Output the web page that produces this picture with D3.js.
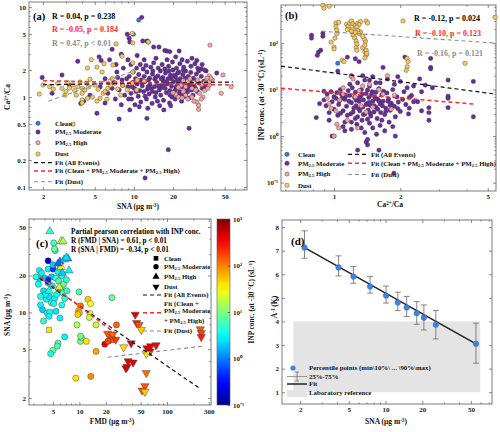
<!DOCTYPE html>
<html><head><meta charset="utf-8">
<script src="https://cdn.jsdelivr.net/npm/d3@7"></script>
<style>body{margin:0;background:#fff} text{font-family:"Liberation Serif","Times New Roman",serif;font-weight:bold}</style>
</head><body><svg id="c" width="500" height="432"></svg>
<script>
// ---------------- DATA ----------------
// Panel (a): [SNA, Ca2+/Ca]
const aClean = [[10.9,7.2],[9.9,5.0]];
const aMod = [[1.97,1.65],[2.35,1.1],[2.8,1.76],[3.7,2.5],[3.2,1.35],[3.9,0.85],[4.1,0.9],[4.6,1.05],[5.2,0.66],[5.4,2.8],[5.6,2.55],[5.5,1.3],[6.0,0.86],[6.0,1.6],[6.5,2.6],[6.3,1.1],[6.8,3.4],[7.0,1.45],[7.2,0.95],[7.4,1.9],[7.7,0.57],[7.7,1.2],[8.0,0.82],[8.1,1.55],[8.3,2.1],[8.5,1.05],[8.9,5.0],[9.2,4.5],[9.3,4.1],[9.3,0.72],[9.0,1.3],[9.2,1.7],[9.5,2.3],[9.6,0.95],[11.5,7.7],[11.7,4.2],[12.6,4.2],[12.9,4.1],[14.2,3.6],[15.6,3.6],[17.3,3.3],[17.9,3.25],[18.9,3.2],[22.3,3.25],[21,2.8],[10.6,2.9],[12.6,0.58],[26.6,0.45],[18.4,0.26],[12.2,0.126],[43.4,1.85],[36,1.95],[40,1.55],[33,2.05],
[10.2,0.82],[10.8,1.02],[11.3,0.88],[11.9,1.15],[12.5,0.95],[13.1,1.08],[13.8,0.85],[14.6,1.0],[15.2,0.9],[16.1,1.05],[16.9,0.92],[17.8,1.12],[18.8,0.86],[19.7,1.0],[20.8,0.95],[22.0,1.07],[23.3,0.9],[24.5,1.02],[10.1,1.25],[10.6,1.4],[11.1,1.18],[11.6,1.33],[12.1,1.48],[12.7,1.22],[13.3,1.38],[13.9,1.15],[14.4,1.3],[15.0,1.45],[15.7,1.2],[16.3,1.35],[16.8,1.52],[17.4,1.25],[18.1,1.4],[18.9,1.18],[19.5,1.32],[20.2,1.48],[21.0,1.22],[21.8,1.38],[22.6,1.15],[23.5,1.3],[24.4,1.45],[25.5,1.25],[26.5,1.4],[27.8,1.2],[29.0,1.35],[30.3,1.5],[10.3,1.6],[10.9,1.78],[11.4,1.55],[12.0,1.7],[12.6,1.9],[13.2,1.62],[13.9,1.8],[14.5,1.58],[15.3,1.72],[16.0,1.95],[16.7,1.65],[17.5,1.85],[18.3,1.6],[19.1,1.75],[20.0,2.0],[20.9,1.68],[21.7,1.85],[22.8,1.6],[23.8,1.78],[25.0,1.95],[26.2,1.7],[27.4,1.88],[28.7,1.62],[30.2,1.8],[31.5,1.95],[10.5,2.1],[11.2,2.3],[11.8,2.05],[12.4,2.25],[13.5,2.15],[14.2,2.4],[15.4,2.1],[16.5,2.3],[17.3,2.05],[18.5,2.2],[19.8,2.45],[21.3,2.1],[22.6,2.35],[24.2,2.15],[25.8,2.5],[27.5,2.2],[29.5,2.35],[31.0,2.1],[33.0,1.7],[34.5,1.5],[35.5,1.3],[33.5,1.25],[32.0,1.42],[30.8,1.15],[28.5,1.05],[26.8,0.98],[25.2,1.1],[9.8,1.45],[9.5,1.1],[8.8,1.6],[9.9,1.9],[8.2,1.35],[7.5,1.65],[6.8,1.25],[11.0,0.78],[12.8,0.75],[15.8,0.8],[17.0,0.72],[19.2,0.8],[13.6,1.25],[14.8,1.12],[16.4,1.28],[17.9,1.48],[19.0,1.05],[20.5,1.15],[21.5,1.55],[23.0,1.5],[24.8,1.62],[26.0,1.15],[27.2,1.55],[28.2,1.42],[29.8,1.25],[12.2,1.02],[13.0,1.55],[14.0,1.95],[15.5,1.32],[16.2,1.6],[18.6,1.95],[20.4,1.75],[22.2,1.9],[24.0,2.0],[11.5,1.45],[10.4,1.15],[12.9,1.3],[14.7,1.65],[17.1,1.38],[19.4,1.6],[21.2,1.3],[23.6,1.05],[25.6,1.45],[27.0,1.3],[9.7,1.3],[9.1,0.95],[28.0,2.7],[23.5,2.6],[18.0,2.6],[14.8,2.7],[12.0,2.6],[30.5,2.55],[33.5,2.3],[35,2.0],[38,1.65],[9.0,2.6],[8.0,3.0],[7.3,2.3]];
const aHigh = [[38.5,3.78],[38,1.72],[38.5,1.6],[36,1.52],[40,1.55],[38,1.35],[48.5,1.76],[47,1.1],[56,1.3],[31.5,0.73],[31.5,0.81],[30.5,0.88],[28,1.0],[25,1.05],[24,1.15],[22,1.0],[21,1.08],[25,1.3],[28,1.25],[30,1.2],[32,1.1],[34,1.0],[35,1.18],[33,1.38],[29,1.45],[26,1.5],[23,1.35],[27,1.6],[31,1.55],[35,1.45],[37,1.25],[33,0.95],[36,1.42],[24,1.52],[22,1.28],[20,1.12],[38,1.48],[39,1.62],[36.5,1.62],[26,0.95],[29,0.9],[23.5,0.98]];
const aDust = [[9.7,5.1],[9.8,4.0],[7.3,3.9],[12.9,4.1],[8.1,2.85],[4.7,2.6],[4.4,2.1],[5.2,2.15],[5.7,1.9],[6.9,2.27],[9.8,2.4],[10.6,1.55],[2.0,1.36],[2.25,1.3],[1.87,1.08],[2.4,1.23],[2.8,1.25],[2.95,1.05],[3.2,1.26],[3.4,1.36],[3.7,1.3],[3.85,1.47],[4.0,1.25],[4.3,1.43],[4.6,1.58],[5.0,1.36],[3.6,1.05],[4.0,1.1],[4.8,1.0],[5.5,0.97],[5.8,1.1],[6.3,1.25],[7.2,1.43],[7.5,1.23],[8.2,1.36],[8.9,1.2],[4.0,0.93],[5.2,0.9],[6.2,0.95],[4.4,0.97],[3.4,0.5],[9.7,1.43],[9.8,1.9],[3.0,1.15],[3.5,1.18],[4.2,1.2],[2.6,1.42],[3.1,1.45],[6.0,1.15],[6.6,1.35],[5.3,1.22],[4.5,1.3],[7.9,1.05],[10.5,1.2],[6.8,1.6],[12.0,1.5],[5.9,2.35],[4.0,0.86]];
const aFitAll = [[2,1.37],[58,1.47]];
const aFitCMH = [[2,1.52],[58,1.36]];
const aFitDust = [[2.2,0.9],[10,1.95]];

// Panel (b): [Ca2+/Ca, INP conc.]
const bClean = [[1.04,37]];
const bMod = [[0.79,148],[0.79,128],[0.89,164],[0.89,140],[0.85,64],[0.84,55],[0.87,70],[1.04,25],[1.15,50],[1.2,20],[1.25,46],[1.3,40],[1.45,16],[1.55,14],[1.67,30],[1.95,19],[2.1,50],[2.45,17],[2.75,47],[2.75,30],[2.75,28],[2.6,12.5],[2.8,11],[3.3,16],[3.3,7.2],[3.3,6.5],[3.3,4.1],[2.7,4.1],[2.7,3.2],[2.7,2.2],[4.3,15],[4.3,2.6],[2.3,12],[2.5,9],[2.4,5.5],[2.2,4.0],[2.5,3.5],[1.9,1.0],[1.87,0.16],[1.6,0.5],[1.28,0.5],[1.4,0.75],[1.42,0.65],[1.42,0.85],[1.0,1.0],[0.98,1.0],[0.83,2.5],[0.95,2.2],[1.1,1.6],[1.12,1.3],[1.2,2.0],
[0.97,9],[1.0,7],[0.98,5.5],[1.02,6.5],[1.05,4.8],[1.08,8],[1.06,5.8],[1.1,3.5],[1.12,6.2],[1.14,4.4],[1.16,9.5],[1.18,7.5],[1.15,2.8],[1.2,5.2],[1.22,3.3],[1.24,6.8],[1.26,4.5],[1.21,11],[1.25,8.8],[1.28,2.6],[1.3,5.6],[1.32,7.2],[1.29,3.9],[1.33,10],[1.35,4.2],[1.36,6.0],[1.38,3.0],[1.34,2.2],[1.4,8.2],[1.41,5.0],[1.43,3.6],[1.44,6.8],[1.45,12],[1.46,4.6],[1.47,2.7],[1.49,9.0],[1.5,5.6],[1.52,3.3],[1.53,7.0],[1.55,4.2],[1.57,2.4],[1.58,6.2],[1.6,10.5],[1.62,4.9],[1.63,3.2],[1.65,7.8],[1.67,5.6],[1.7,2.9],[1.72,4.0],[1.74,8.5],[1.77,6.3],[1.8,3.6],[1.82,5.1],[1.85,10],[1.88,4.4],[1.9,2.6],[1.93,7.0],[1.96,5.4],[2.0,3.4],[2.05,6.2],[2.08,9.0],[2.12,4.8],[2.18,3.0],[2.25,7.5],[2.3,5.5],[1.27,1.8],[1.33,1.5],[1.38,1.2],[1.45,1.9],[1.5,1.5],[1.56,1.1],[1.62,1.7],[1.7,1.3],[1.78,2.0],[1.85,1.6],[1.2,1.4],[1.12,2.0],[1.04,2.8],[0.95,3.2],[0.92,4.5],[0.9,6.0],[1.0,3.8],[1.07,3.1],[1.18,13],[1.28,14],[1.38,16],[1.5,19],[1.62,14],[1.75,17],[1.88,13],[2.0,15],[2.15,11],[1.35,20],[1.42,9.8],[1.48,7.8],[1.55,8.8],[1.58,3.8],[1.65,2.2],[1.68,9.2],[1.42,2.3],[1.36,2.9],[1.31,3.5],[1.26,5.9],[1.23,4.0],[1.19,3.0],[1.17,5.6],[1.13,7.2],[1.09,6.6],[1.07,10],[1.03,8.6],[1.3,6.6],[1.4,4.8],[1.46,3.1],[1.52,4.5],[1.6,5.7],[1.72,3.4],[1.8,4.6],[1.95,3.9],[2.2,6.8],[1.25,2.4],[1.34,8.0],[1.44,5.3],[1.55,6.4],[1.66,4.5],[1.76,5.6],[0.93,8.0],[0.86,5.0],[0.9,9.2]];
const bHigh = [[0.93,6.5],[0.95,5.0],[0.97,4.0],[1.0,1.0],[1.03,1.8],[1.05,1.5],[1.02,3.5],[1.06,6.0],[1.1,8.0],[1.15,2.2],[1.2,19],[1.22,17],[1.25,7.0],[1.3,9.5],[1.35,12],[1.33,4.5],[1.4,3.3],[1.5,4.2],[1.6,10],[1.67,8],[1.75,20],[1.82,3.8],[1.88,7.5],[1.45,13],[1.28,1.5],[1.1,11]];
const bDust = [[0.89,650],[0.9,560],[0.95,620],[1.02,270],[1.02,225],[1.03,190],[1.03,160],[1.01,128],[1.0,82],[1.0,75],[0.97,105],[1.09,43],[1.11,40],[1.14,255],[1.16,230],[1.18,270],[1.2,300],[1.22,260],[1.25,240],[1.28,265],[1.32,290],[1.3,250],[1.27,220],[1.21,200],[1.22,150],[1.24,130],[1.26,110],[1.27,95],[1.26,80],[1.27,70],[1.35,80],[1.38,65],[1.4,55],[1.38,48],[1.39,110],[1.37,125],[1.32,175],[1.28,185],[1.25,170],[1.2,180],[1.15,195],[2.15,47],[2.15,31],[2.13,26],[2.17,40],[3.94,37],[5.4,360],[2.06,300],[1.4,300],[1.42,270],[1.3,160],[1.35,140],[1.05,280],[1.38,90],[1.4,70],[1.41,60]];
const bFitAll = [[0.574,32],[5.45,8]];
const bFitCMH = [[0.574,10.7],[4.3,4.9]];
const bFitDust = [[0.88,180],[5.45,100]];

// Panel (c): [FMD, SNA, INP conc., event type]
const cPts = [[3.5,22,3,'M'],[3.5,19,2.5,'M'],[4.05,19,2,'M'],[4.4,22.6,3,'M'],[4.4,26.4,0.2,'M'],[5.0,22.6,0.5,'M'],[5.3,32,5,'M'],[5.1,37,6,'M'],[5.2,33,8,'M'],[3.6,11.5,3,'M'],[3.8,10.5,2,'M'],[4.3,9.9,4,'M'],[4.6,10,3.5,'M'],[3.9,8.5,5,'M'],[4.2,12.8,3,'M'],[4.5,13.5,2.5,'M'],[4.8,12,4,'M'],[5.2,13,3,'M'],[5.5,14,3.5,'M'],[5.8,15.5,4,'M'],[6.2,16,5,'M'],[6.5,14.5,6,'M'],[6.8,13,4,'M'],[7.2,15,5,'M'],[6.3,11.5,4,'M'],[6.0,9.0,3,'M'],[5.4,10.2,2.5,'M'],[4.9,16.5,3,'M'],[4.4,17.5,2,'M'],[3.9,15,2.5,'M'],[3.4,17,3.5,'M'],[3.2,19.5,4,'M'],[3.7,21,3,'M'],[4.8,19.5,2,'M'],[5.4,19,5,'M'],[5.8,18,6,'M'],[6.3,20,4,'M'],[5.7,21.5,3,'M'],[6.0,23,6,'M'],[6.6,17,8,'M'],[7.1,18.5,5,'M'],[5.0,24.5,2,'M'],[4.1,14,3,'M'],[3.6,13.5,4,'M'],[9.9,14.7,6,'M'],[6.8,6.3,3,'M'],[5.7,5.6,7,'M'],[5.6,5.3,6,'M'],[5.0,4.9,8,'M'],[4.7,4.6,4,'M'],[10.3,5.8,10,'M'],[10.6,6.2,12,'M'],[10.3,6.4,9,'M'],[9.4,7.9,15,'M'],[12,5.8,40,'M'],[12.5,12.8,50,'M'],[13.4,11.8,30,'M'],[13.2,9.8,25,'M'],[13.0,9.1,20,'M'],[10.3,11.3,110,'M'],[9.8,10.3,60,'M'],[10.0,9.9,55,'M'],[9.6,9.6,50,'M'],[15.5,4.8,70,'M'],[15.5,7.9,20,'M'],[23.5,13.2,8,'M'],[26.5,7.9,130,'M'],[19.5,5.5,400,'M'],[9.1,2.9,40,'M'],[13.5,3.0,90,'M'],[22,5.9,150,'M'],[23.5,6.3,160,'M'],[24.5,6.0,140,'M'],[21.2,5.8,180,'M'],[4.5,9.3,3,'M'],[5.1,11.8,4,'M'],
[4.6,46,5,'H'],[6.2,38,20,'H'],[6.5,38,15,'H'],[6.0,26,1,'H'],[7.4,27.5,1.5,'H'],[7.6,22,3,'H'],[6.2,23.5,30,'H'],[6.7,27,2,'H'],[5.7,25,0.8,'H'],[6.4,21,2,'H'],[5.9,16,20,'H'],[4.5,15,4,'H'],[7.1,28,2.5,'H'],
[4.5,7.2,40,'C'],[4.4,18.5,0.4,'C'],
[43.4,9.6,400,'D'],[45,8.2,250,'D'],[48,7.9,150,'D'],[51,7.2,50,'D'],[39,5.6,400,'D'],[21,6.7,150,'D'],[59,5.1,400,'D'],[65,5.3,400,'D'],[75,5.4,350,'D'],[64,4.8,450,'D'],[58,4.6,40,'D'],[36,4.0,400,'D'],[41,3.9,400,'D'],[34,3.5,450,'D'],[35,3.6,400,'D'],[58,3.2,120,'D'],[56,2.5,150,'D'],[52,2.3,150,'D'],[56,2.25,50,'D'],[240,7.3,150,'D'],[246,6.8,180,'D'],[246,6.3,250,'D'],[32,5.2,45,'D'],[24,6.6,120,'D'],[26,6.0,200,'D']];
const cFitAll = [[3.5,19],[245,2.35]];
const cFitCMH = [[3.6,19.5],[26,6.7]];
const cFitDust = [[21,4.3],[260,5.3]];

// Panel (d): percentile points
const dSNA = [2.17,4.12,5.46,7.47,10.1,12.6,14.9,18,20.6,25.8,55];
const dA   = [7.13,6.29,5.9,5.48,5.1,4.8,4.59,4.35,4.16,3.86,3.05];
const dLo  = [6.68,5.93,5.62,5.2,4.78,4.46,4.21,3.88,3.64,3.26,2.23];
const dHi  = [7.84,6.78,6.33,5.9,5.5,5.24,5.06,4.84,4.7,4.46,3.93];
const dFit = [[2.17,7.13],[55,3.05]];
const dLab = {x:[1.76,59.5], y:[1,4]};

// ---------------- DRAW ----------------
const svg = d3.select("#c");
const FR = "#5a5a5a";
const COL = {clean:"#2f7fd8", mod:"#6a2c9c", high:"#f4a3a3", dust:"#f6c75c"};
const RED = "#ff2a2a", GRAY = "#8c8c8c";
const SUPM = {"-":"⁻","0":"⁰","1":"¹","2":"²","3":"³"};
const pow10 = v => "10" + String(Math.round(Math.log10(v))).split("").map(c=>SUPM[c]).join("");
const minors = (lo,hi) => { const r=[]; for(let e=-2;e<=3;e++) for(let m=2;m<=9;m++){const v=m*Math.pow(10,e); if(v>=lo&&v<=hi) r.push(+v.toPrecision(3));} return r; };

function axes(g, x, y, o) {
  const [xl, xr] = x.range(), [yb, yt] = y.range();
  g.append("rect").attr("x",xl).attr("y",yt).attr("width",xr-xl).attr("height",yb-yt)
    .attr("fill","none").attr("stroke",FR).attr("stroke-width",0.8);
  const mk = (fn, sc, vals, size, fmt, tx, ty, pad) => {
    const a = g.append("g").attr("transform",`translate(${tx},${ty})`)
      .call(fn(sc).tickValues(vals).tickSize(size).tickPadding(pad||3).tickFormat(fmt||""));
    a.select(".domain").remove();
    a.selectAll("line").attr("stroke",FR).attr("stroke-width",0.7);
    a.selectAll("text").attr("font-size",7).attr("fill","#222")
      .attr("font-family","Liberation Serif").attr("font-weight","bold");
  };
  mk(d3.axisBottom, x, o.xt, -3, o.fx, 0, yb, o.px||4);
  mk(d3.axisTop, x, o.xt, -3, null, 0, yt);
  mk(d3.axisLeft, y, o.yt, -3, o.fy, xl, 0, o.py||3);
  mk(d3.axisRight, y, o.yt, -3, null, xr, 0);
  if (o.xm) { mk(d3.axisBottom, x, o.xm, -1.6, null, 0, yb); mk(d3.axisTop, x, o.xm, -1.6, null, 0, yt); }
  if (o.ym) { mk(d3.axisLeft, y, o.ym, -1.6, null, xl, 0); mk(d3.axisRight, y, o.ym, -1.6, null, xr, 0); }
}
function rich(g, x, y, parts, o={}) {
  const t = g.append("text").attr("x",x).attr("y",y).attr("font-size",o.size||7)
    .attr("fill",o.fill||"#111").attr("text-anchor",o.anchor||"start");
  if (o.rotate) t.attr("transform",`rotate(-90,${x},${y})`);
  parts.forEach(p => {
    if (typeof p === "string") t.append("tspan").text(p);
    else t.append("tspan").attr("font-size",(o.size||7)*0.68)
      .attr("baseline-shift", p.sub!==undefined ? "-28%" : "40%").text(p.sub!==undefined ? p.sub : p.sup);
  });
  return t;
}
const unitParts = (name) => [name+" (μg m", {sup:"-3"}, ")"];
const PM = (rest) => ["PM", {sub:"2.5"}, rest];
function dots(g, data, x, y, fill, r) {
  g.append("g").selectAll("circle").data(data).join("circle")
    .attr("cx",d=>x(d[0])).attr("cy",d=>y(d[1])).attr("r",r||2.2)
    .attr("fill",fill).attr("stroke","#3a3a3a").attr("stroke-width",0.4);
}
function fit(g, data, x, y, col, w, dash) {
  g.append("path").datum(data).attr("d", d3.line().x(d=>x(d[0])).y(d=>y(d[1])))
    .attr("fill","none").attr("stroke",col).attr("stroke-width",w).attr("stroke-dasharray",dash);
}

// ---------- Panel (a) ----------
{
  const g = svg.append("g");
  const x = d3.scaleLog().domain([1.56,74.2]).range([29,247]);
  const y = d3.scaleLog().domain([0.0926,11.4]).range([190,2]);
  axes(g, x, y, {xt:[2,5,10,20,50], xm:minors(1.56,74.2).filter(v=>![2,5,20,50].includes(v)),
    yt:[0.1,0.2,0.5,1,2,5,10], ym:minors(0.0926,11.4).filter(v=>![0.2,0.5,2,5].includes(v)),
    fx:d=>d, fy:d=>d, px:4, py:3});
  dots(g, aClean, x, y, COL.clean);
  dots(g, aMod, x, y, COL.mod);
  dots(g, aHigh, x, y, COL.high);
  dots(g, aDust, x, y, COL.dust);
  fit(g, aFitAll, x, y, "#111", 1.2, "4,3");
  fit(g, aFitCMH, x, y, RED, 1.5, "4,3");
  fit(g, aFitDust, x, y, GRAY, 1.1, "4,3");
  g.append("text").attr("x",33).attr("y",20).attr("font-size",10.5).text("(a)");
  g.append("text").attr("x",52).attr("y",19).attr("font-size",8).text("R = 0.04, p = 0.238");
  g.append("text").attr("x",52).attr("y",32).attr("font-size",8).attr("fill",RED).text("R = -0.05, p = 0.184");
  g.append("text").attr("x",52).attr("y",45.5).attr("font-size",8).attr("fill",GRAY).text("R = 0.47, p < 0.01");
  const L = [[123.3,COL.clean,["Clean"]],[132,COL.mod,PM(" Moderate")],[142.7,COL.high,PM(" High")],[154,COL.dust,["Dust"]]];
  L.forEach(([ly,c,t])=>{
    g.append("circle").attr("cx",38).attr("cy",ly).attr("r",2.2).attr("fill",c).attr("stroke","#3a3a3a").attr("stroke-width",0.4);
    rich(g,55,ly+2.4,t,{size:6.8});
  });
  const F = [[162.7,"#111",["Fit (All Events)"],1.2],[171,RED,["Fit (Clean + ", ...PM(" Moderate + "), ...PM(" High)")],1.5],[181.7,GRAY,["Fit (Dust)"],1.1]];
  F.forEach(([ly,c,t,w])=>{
    g.append("line").attr("x1",34).attr("x2",52).attr("y1",ly).attr("y2",ly).attr("stroke",c).attr("stroke-width",w).attr("stroke-dasharray","4,3");
    rich(g,55,ly+2.4,t,{size:6.8});
  });
  rich(g,138,209,unitParts("SNA"),{size:7.5,anchor:"middle"});
  rich(g,10,97,["Ca",{sup:"2+"},"/Ca"],{size:7.5,anchor:"middle",rotate:true});
}

// ---------- Panel (b) ----------
{
  const g = svg.append("g");
  const x = d3.scaleLog().domain([0.574,5.45]).range([281,496]);
  const y = d3.scaleLog().domain([0.066,660]).range([191,5]);
  axes(g, x, y, {xt:[1,2,5], xm:minors(0.574,5.45).filter(v=>![2,5].includes(v)),
    yt:[0.1,1,10,100], ym:minors(0.066,660).filter(v=>v>0.1), fx:d=>d, fy:pow10, px:3.5, py:3});
  dots(g, bClean, x, y, COL.clean);
  dots(g, bMod, x, y, COL.mod);
  dots(g, bHigh, x, y, COL.high);
  dots(g, bDust, x, y, COL.dust);
  fit(g, bFitAll, x, y, "#111", 1.2, "4,3");
  fit(g, bFitCMH, x, y, RED, 1.5, "4,3");
  fit(g, bFitDust, x, y, GRAY, 1.1, "4,3");
  g.append("text").attr("x",285).attr("y",19).attr("font-size",10.5).text("(b)");
  g.append("text").attr("x",414).attr("y",21).attr("font-size",8).text("R = -0.12, p = 0.024");
  g.append("text").attr("x",415).attr("y",36).attr("font-size",8).attr("fill",RED).text("R = -0.10, p = 0.123");
  g.append("text").attr("x",417).attr("y",56).attr("font-size",8).attr("fill",GRAY).text("R = -0.16, p = 0.121");
  const L = [[154.3,COL.clean,["Clean"]],[163.3,COL.mod,PM(" Moderate")],[174,COL.high,PM(" High")],[185.3,COL.dust,["Dust"]]];
  L.forEach(([ly,c,t])=>{
    g.append("circle").attr("cx",287).attr("cy",ly).attr("r",2.2).attr("fill",c).attr("stroke","#3a3a3a").attr("stroke-width",0.4);
    rich(g,298,ly+2.4,t,{size:6.8});
  });
  const F = [[154.3,"#111",["Fit (All Events)"],1.2],[163.3,RED,["Fit (Clean + ", ...PM(" Moderate + "), ...PM(" High)")],1.5],[174.5,GRAY,["Fit (Dust)"],1.1]];
  F.forEach(([ly,c,t,w])=>{
    g.append("line").attr("x1",348).attr("x2",368).attr("y1",ly).attr("y2",ly).attr("stroke",c).attr("stroke-width",w).attr("stroke-dasharray","4,3");
    rich(g,371,ly+2.4,t,{size:6.8});
  });
  rich(g,390,207,["Ca",{sup:"2+"},"/Ca"],{size:7.5,anchor:"middle"});
  rich(g,264,95,["INP conc. (at -30 °C) (sL", {sup:"-1"}, ")"],{size:8,anchor:"middle",rotate:true});
}

// ---------- Panel (c) ----------
{
  const g = svg.append("g");
  const x = d3.scaleLog().domain([2.66,318]).range([29,211]);
  const y = d3.scaleLog().domain([1.75,58]).range([405,219]);
  const cn = d3.scaleLog().domain([0.1,1000]).range([0,1]).clamp(true);
  const jet = d3.scaleLinear().domain([0,0.125,0.375,0.625,0.875,1])
    .range(["#00008f","#0000ff","#00ffff","#ffff00","#ff0000","#800000"]);
  const shape = {C:d3.symbolSquare, M:d3.symbolCircle, H:d3.symbolTriangle, D:d3.symbolTriangle};
  const size = {C:26, M:30, H:30, D:30};
  axes(g, x, y, {xt:[5,10,20,50,100,300], xm:minors(2.66,318).filter(v=>![5,20,50,300].includes(v)),
    yt:[2,5,10,20,50], ym:minors(1.75,58).filter(v=>![2,5,20,50].includes(v)), fx:d=>d, fy:d=>d, px:4.5, py:3});
  const order = {M:0,H:1,C:2,D:3};
  g.append("g").selectAll("path").data(cPts.slice().sort((a,b)=>order[a[3]]-order[b[3]])).join("path")
    .attr("d", d=>d3.symbol(shape[d[3]], size[d[3]])())
    .attr("transform", d=>`translate(${x(d[0])},${y(d[1])})${d[3]==='D'?' rotate(180)':''}`)
    .attr("fill", d=>jet(cn(d[2]))).attr("stroke","#444").attr("stroke-width",0.45);
  fit(g, cFitAll, x, y, "#111", 1.2, "4,3");
  fit(g, cFitCMH, x, y, RED, 1.5, "4,3");
  fit(g, cFitDust, x, y, GRAY, 1.1, "4,3");
  g.append("text").attr("x",36).attr("y",247).attr("font-size",11).text("(c)");
  g.append("text").attr("x",71).attr("y",233.5).attr("font-size",7.2).text("Partial pearson correlation with INP conc.");
  g.append("text").attr("x",71).attr("y",242.8).attr("font-size",7.2).text("R (FMD | SNA) = 0.61, p < 0.01");
  g.append("text").attr("x",71).attr("y",251.5).attr("font-size",7.2).text("R (SNA | FMD) = -0.34, p < 0.01");
  const L = [[258.3,'C',["Clean"]],[266.7,'M',PM(" Moderate")],[276.7,'H',PM(" High")],[286.7,'D',["Dust"]]];
  L.forEach(([ly,k,t])=>{
    g.append("path").attr("d",d3.symbol(shape[k], 22)()).attr("transform",`translate(156,${ly})${k==='D'?' rotate(180)':''}`).attr("fill","#000");
    rich(g,164,ly+2.4,t,{size:6.8});
  });
  [[295,"#111",1.2],[312.7,RED,1.5],[331,GRAY,1.1]].forEach(([ly,c,w])=>{
    g.append("line").attr("x1",143).attr("x2",161).attr("y1",ly).attr("y2",ly).attr("stroke",c).attr("stroke-width",w).attr("stroke-dasharray","4,3");
  });
  rich(g,164,297.4,["Fit (All Events)"],{size:6.8});
  rich(g,164,305.7,["Fit (Clean +"],{size:6.8});
  rich(g,164,313.4,PM(" Moderate"),{size:6.8});
  rich(g,164,323.4,["+ ", ...PM(" High)")],{size:6.8});
  rich(g,164,333.4,["Fit (Dust)"],{size:6.8});
  rich(g,112,424,unitParts("FMD"),{size:7.5,anchor:"middle"});
  rich(g,10,315,unitParts("SNA"),{size:7.5,anchor:"middle",rotate:true});
  // colorbar
  const cb = d3.scaleLog().domain([0.1,1000]).range([405,219]);
  const grad = svg.append("defs").append("linearGradient").attr("id","jetg").attr("x1",0).attr("y1",1).attr("x2",0).attr("y2",0);
  d3.range(0,1.0001,0.05).forEach(t=>grad.append("stop").attr("offset",t).attr("stop-color",jet(t)));
  g.append("rect").attr("x",217).attr("y",219).attr("width",13).attr("height",186).attr("fill","url(#jetg)").attr("stroke",FR).attr("stroke-width",0.6);
  const ca = g.append("g").attr("transform","translate(230,0)")
    .call(d3.axisRight(cb).tickValues([0.1,1,10,100,1000]).tickSize(-2.5).tickPadding(3).tickFormat(pow10));
  ca.select(".domain").remove();
  ca.selectAll("line").attr("stroke","#333").attr("stroke-width",0.6);
  ca.selectAll("text").attr("font-size",7).attr("fill","#222").attr("font-family","Liberation Serif").attr("font-weight","bold");
  rich(g,254,302,["INP conc. (at -30 °C) (sL", {sup:"-1"}, ")"],{size:7.3,anchor:"middle",rotate:true});
}

// ---------- Panel (d) ----------
{
  const g = svg.append("g");
  const x = d3.scaleLog().domain([1.42,74.4]).range([282,492]);
  const y = d3.scaleLinear().domain([0.5,8.3]).range([404,220]);
  g.append("rect").attr("x",x(dLab.x[0])).attr("y",y(dLab.y[1])).attr("width",x(dLab.x[1])-x(dLab.x[0]))
    .attr("height",y(dLab.y[0])-y(dLab.y[1])).attr("fill","#e4e4e4");
  axes(g, x, y, {xt:[2,5,10,20,50], xm:minors(1.42,74.4).filter(v=>![2,5,20,50].includes(v)),
    yt:[1,2,3,4,5,6,7,8], fx:d=>d, fy:d=>d, px:3, py:3});
  fit(g, dFit, x, y, "#222", 1.5, null);
  const eb = g.append("g").attr("stroke","#6a6a6a").attr("stroke-width",0.8);
  dSNA.forEach((s,i)=>{
    eb.append("line").attr("x1",x(s)).attr("x2",x(s)).attr("y1",y(dLo[i])).attr("y2",y(dHi[i]));
    eb.append("line").attr("x1",x(s)-3).attr("x2",x(s)+3).attr("y1",y(dLo[i])).attr("y2",y(dLo[i]));
    eb.append("line").attr("x1",x(s)-3).attr("x2",x(s)+3).attr("y1",y(dHi[i])).attr("y2",y(dHi[i]));
  });
  g.append("g").selectAll("circle").data(dSNA).join("circle")
    .attr("cx",d=>x(d)).attr("cy",(d,i)=>y(dA[i])).attr("r",2.8).attr("fill","#3f82e0").attr("stroke","#2a5fb0").attr("stroke-width",0.4);
  g.append("text").attr("x",291).attr("y",245).attr("font-size",11).text("(d)");
  // legend
  g.append("circle").attr("cx",293).attr("cy",368).attr("r",2.6).attr("fill","#3f82e0");
  rich(g,309,370.4,["Percentile points (min\\10%\\ ... \\90%\\max)"],{size:6.8});
  g.append("line").attr("x1",287).attr("x2",307).attr("y1",376.5).attr("y2",376.5).attr("stroke","#777").attr("stroke-width",0.7);
  g.append("line").attr("x1",297).attr("x2",297).attr("y1",372).attr("y2",381).attr("stroke","#777").attr("stroke-width",0.8);
  g.append("line").attr("x1",295).attr("x2",299).attr("y1",372).attr("y2",372).attr("stroke","#777").attr("stroke-width",0.8);
  g.append("line").attr("x1",295).attr("x2",299).attr("y1",381).attr("y2",381).attr("stroke","#777").attr("stroke-width",0.8);
  rich(g,309,378.9,["25%-75%"],{size:6.8});
  g.append("line").attr("x1",287).attr("x2",307).attr("y1",384).attr("y2",384).attr("stroke","#222").attr("stroke-width",1.5);
  rich(g,309,386.4,["Fit"],{size:6.8});
  g.append("rect").attr("x",287).attr("y",390).attr("width",20).attr("height",7).attr("fill","#e4e4e4");
  rich(g,309,395.4,["Laboratory reference"],{size:6.8});
  rich(g,386,424,unitParts("SNA"),{size:7.5,anchor:"middle"});
  rich(g,277,307,["A",{sup:"-1"}," (K)"],{size:7.5,anchor:"middle",rotate:true});
}
</script></body></html>
